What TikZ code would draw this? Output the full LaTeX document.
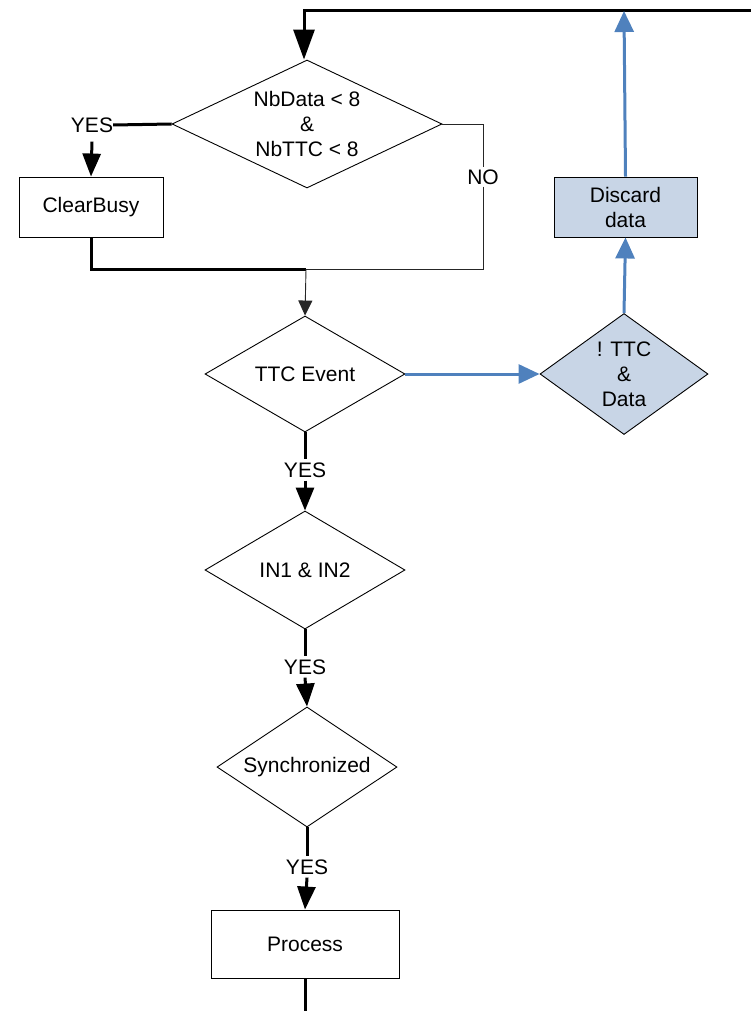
\documentclass[tikz,border=0pt]{standalone}
\usepackage{fontspec}
\setmainfont{Liberation Sans}
\usetikzlibrary{shapes.geometric,arrows.meta}
\definecolor{flowblue}{HTML}{4F81BD}
\definecolor{flowfill}{HTML}{C8D5E6}
\begin{document}
\begin{tikzpicture}[x=1pt,y=-1pt,
  font=\fontsize{21}{25}\selectfont,
  decision/.style={draw=black,line width=0.9pt,shape=diamond,inner sep=0pt,align=center},
  stepbox/.style={draw=black,line width=0.9pt,rectangle,inner sep=0pt,align=center},
  lbl/.style={inner sep=2pt,fill=white},
  thickline/.style={line width=3pt,black},
  thinline/.style={line width=0.9pt,black!85},
  bluearrow/.style={line width=3pt,flowblue,-{Triangle[length=21pt,width=19pt]}},
  arrowhd/.style={-{Triangle[length=23pt,width=18pt]}}
]
\useasboundingbox (0,0) rectangle (751,1011);

% decisions
\node[decision,minimum width=270pt,minimum height=128pt,aspect=2.11] (d1) at (307,124)
  {NbData < 8\\\&\\NbTTC < 8};
\node[decision,minimum width=200pt,minimum height=116pt,aspect=1.72] (ttc) at (305,374) {TTC Event};
\node[decision,fill=flowfill,minimum width=168pt,minimum height=121pt,aspect=1.39] (nttc) at (624,374)
  {! TTC\\\&\\Data};
\node[decision,minimum width=200pt,minimum height=118pt,aspect=1.69] (in) at (305,570) {IN1 \& IN2};
\node[decision,minimum width=180pt,minimum height=120pt,aspect=1.5] (sync) at (307,767) {Synchronized};

% process boxes
\node[stepbox,minimum width=144pt,minimum height=60pt] (clear) at (91,207) {ClearBusy};
\node[stepbox,fill=flowfill,minimum width=143pt,minimum height=60pt] (discard) at (625.5,207) {Discard\\data};
\node[stepbox,minimum width=188pt,minimum height=68pt] (proc) at (305,944) {Process};

% labels on connectors
\node[lbl,inner sep=0pt] (yes1) at (92,125) {YES};
\node[lbl] (no) at (483,177) {NO};
\node[lbl,inner sep=3pt] (yes2) at (305,470) {YES};
\node[lbl,inner sep=3pt] (yes3) at (305,667) {YES};
\node[lbl,inner sep=3pt] (yes4) at (307,867) {YES};

% helper points
\coordinate (topR) at (751,11);
\coordinate (topL) at (304,11);
\coordinate (topB) at (624,11);
\coordinate (noC) at (483,124);
\coordinate (merge) at (306,269);
\coordinate (bottom) at (305,1011);

% loop back to the first test
\draw[thickline,-{Triangle[length=30pt,width=21pt]}] (topR) -- (topL) -- (topL |- d1.north);

% first test
\draw[thickline] (d1.west) -- (yes1.east);
\draw[thickline,arrowhd] ([yshift=-9pt]yes1.south) -- (clear.north);
\draw[thinline] (d1.east) -- (noC) -- (no.north);
\draw[thinline] (no.south) |- (merge);
\draw[thickline] (clear.south) |- (merge);
\draw[thinline,-{Triangle[length=15pt,width=14pt]}] (merge) -- (ttc.north);

% discard branch
\draw[bluearrow] (ttc.east) -- (nttc.west);
\draw[bluearrow] (nttc.north) -- (discard.south);
\draw[bluearrow] (discard.north) -- (topB);

% main chain
\draw[thickline] (ttc.south) -- (yes2.north);
\draw[thickline,arrowhd] (yes2.south) -- (in.north);
\draw[thickline] (in.south) -- (yes3.north);
\draw[thickline,arrowhd] (yes3.south) -- (sync.north);
\draw[thickline] (sync.south) -- (yes4.north);
\draw[thickline,arrowhd] (yes4.south) -- (proc.north);
\draw[thickline] (proc.south) -- (bottom);
\end{tikzpicture}
\end{document}
